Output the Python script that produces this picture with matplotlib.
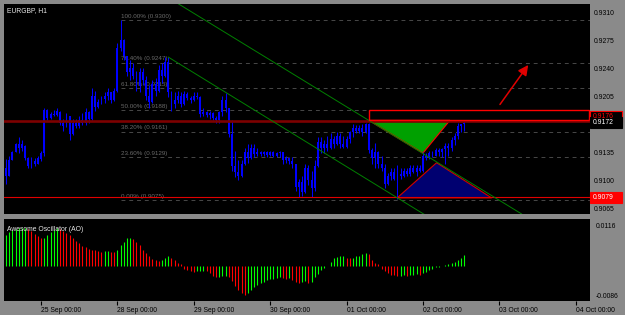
import numpy as np
import matplotlib
matplotlib.use("Agg")
import matplotlib.pyplot as plt
from matplotlib.patches import Polygon, Rectangle

plt.rcParams['font.family'] = ['Liberation Sans', 'DejaVu Sans']

# --- data (EURGBP H1) ---
symbol = "EURGBP, H1"
opens = [0.9115, 0.9106, 0.9125, 0.9135, 0.9145, 0.9140, 0.9143, 0.9128, 0.9118, 0.9124,
         0.9121, 0.9127, 0.9134, 0.9188, 0.9178, 0.9183, 0.9182, 0.9186, 0.9172, 0.9168,
         0.9180, 0.9158, 0.9172, 0.9168, 0.9176, 0.9172, 0.9186, 0.9177, 0.9205, 0.9192,
         0.9198, 0.9202, 0.9205, 0.9210, 0.9200, 0.9212, 0.9265, 0.9275, 0.9255, 0.9235,
         0.9240, 0.9230, 0.9218, 0.9235, 0.9225, 0.9205, 0.9198, 0.9220, 0.9212, 0.9238,
         0.9230, 0.9248, 0.9210, 0.9195, 0.9200, 0.9205, 0.9195, 0.9208, 0.9203, 0.9200,
         0.9206, 0.9204, 0.9183, 0.9186, 0.9182, 0.9184, 0.9178, 0.9176, 0.9185, 0.9200,
         0.9190, 0.9158, 0.9118, 0.9110, 0.9105, 0.9120, 0.9135, 0.9128, 0.9140, 0.9133,
         0.9136, 0.9133, 0.9135, 0.9132, 0.9136, 0.9131, 0.9134, 0.9135, 0.9125, 0.9128,
         0.9124, 0.9120, 0.9092, 0.9098, 0.9085, 0.9115, 0.9100, 0.9090, 0.9118, 0.9148,
         0.9140, 0.9145, 0.9140, 0.9152, 0.9145, 0.9155, 0.9145, 0.9142, 0.9152, 0.9160,
         0.9165, 0.9162, 0.9166, 0.9160, 0.9170, 0.9138, 0.9128, 0.9135, 0.9120, 0.9115,
         0.9095, 0.9105, 0.9110, 0.9102, 0.9108, 0.9105, 0.9112, 0.9108, 0.9115, 0.9110,
         0.9116, 0.9112, 0.9130, 0.9128, 0.9134, 0.9131, 0.9138, 0.9135, 0.9139, 0.9143,
         0.9140, 0.9150, 0.9156, 0.9168, 0.9170]
highs = [0.9127, 0.9131, 0.9137, 0.9147, 0.9154, 0.9150, 0.9144, 0.9129, 0.9129, 0.9128,
         0.9131, 0.9137, 0.9191, 0.9189, 0.9185, 0.9188, 0.9190, 0.9187, 0.9177, 0.9184,
         0.9181, 0.9177, 0.9177, 0.9180, 0.9184, 0.9190, 0.9187, 0.9215, 0.9212, 0.9202,
         0.9206, 0.9210, 0.9215, 0.9210, 0.9215, 0.9272, 0.9300, 0.9277, 0.9256, 0.9250,
         0.9247, 0.9237, 0.9240, 0.9240, 0.9231, 0.9219, 0.9225, 0.9228, 0.9244, 0.9247,
         0.9254, 0.9254, 0.9212, 0.9210, 0.9212, 0.9210, 0.9212, 0.9210, 0.9206, 0.9210,
         0.9210, 0.9205, 0.9190, 0.9187, 0.9187, 0.9185, 0.9181, 0.9187, 0.9206, 0.9209,
         0.9191, 0.9175, 0.9137, 0.9125, 0.9125, 0.9141, 0.9146, 0.9146, 0.9146, 0.9140,
         0.9137, 0.9137, 0.9137, 0.9137, 0.9137, 0.9136, 0.9137, 0.9136, 0.9131, 0.9129,
         0.9129, 0.9121, 0.9102, 0.9106, 0.9121, 0.9119, 0.9112, 0.9125, 0.9154, 0.9154,
         0.9150, 0.9156, 0.9159, 0.9156, 0.9160, 0.9159, 0.9156, 0.9156, 0.9162, 0.9171,
         0.9169, 0.9169, 0.9171, 0.9172, 0.9172, 0.9141, 0.9147, 0.9137, 0.9131, 0.9121,
         0.9109, 0.9116, 0.9116, 0.9119, 0.9115, 0.9116, 0.9116, 0.9119, 0.9119, 0.9119,
         0.9119, 0.9135, 0.9134, 0.9137, 0.9137, 0.9140, 0.9141, 0.9141, 0.9147, 0.9147,
         0.9154, 0.9159, 0.9172, 0.9171, 0.9175]
lows = [0.9096, 0.9106, 0.9125, 0.9135, 0.9134, 0.9137, 0.9125, 0.9115, 0.9116, 0.9118,
        0.9120, 0.9124, 0.9131, 0.9175, 0.9177, 0.9180, 0.9181, 0.9169, 0.9162, 0.9167,
        0.9150, 0.9157, 0.9165, 0.9165, 0.9169, 0.9169, 0.9172, 0.9175, 0.9187, 0.9190,
        0.9195, 0.9197, 0.9200, 0.9197, 0.9199, 0.9210, 0.9262, 0.9250, 0.9231, 0.9225,
        0.9227, 0.9212, 0.9210, 0.9219, 0.9200, 0.9191, 0.9197, 0.9206, 0.9211, 0.9222,
        0.9229, 0.9204, 0.9187, 0.9190, 0.9197, 0.9192, 0.9194, 0.9200, 0.9197, 0.9199,
        0.9202, 0.9179, 0.9180, 0.9179, 0.9177, 0.9175, 0.9172, 0.9172, 0.9181, 0.9185,
        0.9154, 0.9112, 0.9104, 0.9100, 0.9104, 0.9119, 0.9122, 0.9127, 0.9129, 0.9130,
        0.9131, 0.9130, 0.9129, 0.9130, 0.9129, 0.9129, 0.9129, 0.9121, 0.9122, 0.9121,
        0.9116, 0.9087, 0.9079, 0.9081, 0.9084, 0.9094, 0.9079, 0.9087, 0.9117, 0.9134,
        0.9134, 0.9137, 0.9139, 0.9141, 0.9144, 0.9141, 0.9140, 0.9141, 0.9147, 0.9154,
        0.9159, 0.9159, 0.9156, 0.9159, 0.9134, 0.9121, 0.9116, 0.9116, 0.9112, 0.9091,
        0.9094, 0.9100, 0.9100, 0.9077, 0.9102, 0.9104, 0.9106, 0.9106, 0.9109, 0.9106,
        0.9110, 0.9111, 0.9125, 0.9127, 0.9129, 0.9130, 0.9131, 0.9129, 0.9121, 0.9131,
        0.9137, 0.9144, 0.9152, 0.9160, 0.9162]
closes = [0.9105, 0.9125, 0.9135, 0.9145, 0.9140, 0.9145, 0.9128, 0.9118, 0.9125, 0.9120,
          0.9128, 0.9134, 0.9188, 0.9178, 0.9183, 0.9182, 0.9187, 0.9172, 0.9168, 0.9180,
          0.9158, 0.9172, 0.9168, 0.9176, 0.9172, 0.9186, 0.9177, 0.9205, 0.9192, 0.9198,
          0.9202, 0.9205, 0.9210, 0.9200, 0.9212, 0.9265, 0.9275, 0.9255, 0.9235, 0.9240,
          0.9230, 0.9218, 0.9235, 0.9225, 0.9205, 0.9198, 0.9220, 0.9212, 0.9238, 0.9230,
          0.9248, 0.9210, 0.9195, 0.9200, 0.9205, 0.9195, 0.9208, 0.9203, 0.9200, 0.9206,
          0.9204, 0.9183, 0.9186, 0.9182, 0.9184, 0.9178, 0.9176, 0.9185, 0.9200, 0.9190,
          0.9158, 0.9118, 0.9110, 0.9105, 0.9120, 0.9135, 0.9128, 0.9140, 0.9133, 0.9136,
          0.9133, 0.9135, 0.9132, 0.9136, 0.9131, 0.9134, 0.9135, 0.9125, 0.9128, 0.9124,
          0.9120, 0.9092, 0.9098, 0.9085, 0.9115, 0.9100, 0.9090, 0.9118, 0.9148, 0.9140,
          0.9145, 0.9140, 0.9152, 0.9145, 0.9155, 0.9145, 0.9142, 0.9152, 0.9160, 0.9165,
          0.9162, 0.9166, 0.9160, 0.9170, 0.9138, 0.9128, 0.9135, 0.9120, 0.9115, 0.9095,
          0.9105, 0.9110, 0.9102, 0.9108, 0.9105, 0.9112, 0.9108, 0.9115, 0.9110, 0.9116,
          0.9112, 0.9130, 0.9128, 0.9134, 0.9131, 0.9138, 0.9135, 0.9139, 0.9143, 0.9140,
          0.9150, 0.9156, 0.9168, 0.9170, 0.9172]

ao = [0.0076, 0.0083, 0.0088, 0.0091, 0.0093, 0.0094, 0.0095, 0.0092, 0.0087, 0.0079,
      0.0073, 0.0068, 0.0070, 0.0076, 0.0083, 0.0090, 0.0093, 0.0092, 0.0087, 0.0081,
      0.0076, 0.0070, 0.0062, 0.0056, 0.0049, 0.0046, 0.0043, 0.0040, 0.0039, 0.0037,
      0.0035, 0.0036, 0.0037, 0.0035, 0.0034, 0.0040, 0.0052, 0.0060, 0.0068, 0.0070,
      0.0066, 0.0059, 0.0052, 0.0040, 0.0032, 0.0024, 0.0017, 0.0015, 0.0013, 0.0016,
      0.0020, 0.0024, 0.0019, 0.0015, 0.0008, 0.0004, -0.0006, -0.0010, -0.0012, -0.0014,
      -0.0013, -0.0012, -0.0011, -0.0013, -0.0018, -0.0024, -0.0028, -0.0026, -0.0025, -0.0024,
      -0.0028, -0.0036, -0.0048, -0.0058, -0.0066, -0.0070, -0.0066, -0.0058, -0.0052, -0.0046,
      -0.0042, -0.0038, -0.0035, -0.0033, -0.0031, -0.0029, -0.0028, -0.0029, -0.0031, -0.0030,
      -0.0035, -0.0040, -0.0042, -0.0040, -0.0036, -0.0042, -0.0038, -0.0028, -0.0019, -0.0010,
      -0.0004, 0.0001, 0.0011, 0.0019, 0.0022, 0.0024, 0.0025, 0.0021, 0.0019, 0.0021,
      0.0024, 0.0026, 0.0031, 0.0033, 0.0029, 0.0016, 0.0008, 0.0004, -0.0006, -0.0012,
      -0.0017, -0.0021, -0.0022, -0.0025, -0.0024, -0.0022, -0.0024, -0.0022, -0.0021, -0.0020,
      -0.0022, -0.0018, -0.0014, -0.0010, -0.0006, -0.0003, -0.0002, 0.0000, 0.0003, 0.0005,
      0.0008, 0.0011, 0.0015, 0.0019, 0.0028]

fib_start = 36
fib_levels = [0.9300, 0.9247, 0.9215, 0.9188, 0.9161, 0.9129, 0.9075]
fib_labels = ["100.00% (0.9300)", "76.40% (0.9247)", "61.80% (0.9215)", "50.00% (0.9188)",
              "38.20% (0.9161)", "23.60% (0.9129)", "0.00% (0.9075)"]

price_ticks = [0.9310, 0.9275, 0.9240, 0.9205, 0.9135, 0.9100, 0.9065]
time_ticks = [11, 35, 59, 83, 107, 131, 155, 179]
time_labels = ["25 Sep 00:00", "28 Sep 00:00", "29 Sep 00:00", "30 Sep 00:00",
               "01 Oct 00:00", "02 Oct 00:00", "03 Oct 00:00", "04 Oct 00:00"]

resistance = 0.91745
support = 0.9079
last_price = 0.9172
upper_channel = ([54, 162], [0.9321, 0.9058])
lower_channel = ([51, 132], [0.9254, 0.9056])
green_tri = [(114, 0.9175), (139.5, 0.9175), (131, 0.9134)]
blue_tri = [(122.9, 0.9078), (135.3, 0.9122), (152.6, 0.9078)]
zone = (114, 0.9175, 0.9188)
arrow_from = (154.7, 0.9192)
arrow_to = (164.6, 0.9247)

# --- figure layout (MT4 style) ---
W, H = 625, 315
bg = '#8a8a8a'
fig = plt.figure(figsize=(W / 100, H / 100), dpi=100, facecolor=bg)
ax = fig.add_axes([4 / W, (H - 214) / H, 586 / W, 210 / H], facecolor='black')
ax2 = fig.add_axes([4 / W, (H - 301) / H, 586 / W, 82 / H], facecolor='black')

xlim = (-0.63, 183.5)
fs = 4.9

# candles
n = len(closes)
idx = np.arange(n)
o = np.array(opens)
c = np.array(closes)
ax.vlines(idx, lows, highs, color='#0000ff', lw=0.75, zorder=3)
body_lo = np.minimum(o, c)
body_h = np.maximum(np.abs(c - o), 0.00008)
ax.bar(idx, body_h, bottom=body_lo, width=0.6, color='#0000ff', lw=0, zorder=3)

# fibonacci
for lvl, lab in zip(fib_levels, fib_labels):
    ax.plot([fib_start, xlim[1]], [lvl, lvl], color='#484848', lw=0.7, dashes=(4, 4), zorder=2)
    ax.annotate(lab, (fib_start, lvl), xytext=(0.3, 1.0), textcoords='offset points',
                fontsize=4.5, color='#6a6a6a', va='bottom', ha='left', zorder=2)

# horizontal levels
ax.axhline(resistance, color='#7d0000', lw=1.9, zorder=4)
ax.axhline(support, color='#e00000', lw=0.8, zorder=4)

# channel
ax.plot(*upper_channel, color='#008000', lw=0.7, zorder=5)
ax.plot(*lower_channel, color='#008000', lw=0.7, zorder=5)

# triangles
ax.add_patch(Polygon(green_tri, closed=True, fc='#00a000', ec='#ff0000', lw=0.8, zorder=2.5))
ax.add_patch(Polygon(blue_tri, closed=True, fc='#000070', ec='#d00000', lw=0.8, zorder=2.5))

# red zone rectangle
ax.add_patch(Rectangle((zone[0], zone[1]), xlim[1] - zone[0] - 0.25, zone[2] - zone[1],
                       fill=False, ec='#ff0000', lw=1.0, zorder=6))

# arrow
ax.annotate('', xy=arrow_to, xytext=arrow_from,
            arrowprops=dict(arrowstyle='-|>,head_length=0.6,head_width=0.3',
                            color='#e00000', lw=1.1), zorder=7)

ax.set_xlim(*xlim)
ax.set_ylim(0.90579, 0.93204)
ax.set_xticks([])
ax.yaxis.tick_right()
ax.set_yticks(price_ticks)
ax.set_yticklabels([f"{p:.4f}" for p in price_ticks])
ax.tick_params(axis='y', length=0, pad=3, labelsize=fs, labelcolor='black')
for s in ax.spines.values():
    s.set_visible(False)
ax.text(0.005, 0.971, symbol, transform=ax.transAxes, color='#e8e8e8', fontsize=fs,
        va='center', ha='left')

# price labels on the axis
def price_box(price, text, face, edge, color):
    y = ax.transData.transform((0, price))[1]
    fig.add_artist(Rectangle((590 / W, (y - 5.5) / H), 32 / W, 11 / H, transform=fig.transFigure,
                             fc=face, ec=edge, lw=0.8))
    fig.text(593 / W, y / H, text, color=color, fontsize=fs, va='center', ha='left')

price_box(0.91795, "0.9176", 'black', '#ff0000', '#ff0000')
price_box(last_price, f"{last_price:.4f}", 'black', 'black', 'white')
price_box(support, f"{support:.4f}", '#ff0000', '#ff0000', 'white')

# awesome oscillator
cols = ['#00ff00'] + ['#00ff00' if ao[i] > ao[i - 1] else '#ff0000' for i in range(1, len(ao))]
ax2.vlines(np.arange(len(ao)), 0, ao, colors=cols, lw=0.8)
ax2.set_xlim(*xlim)
ax2.set_ylim(-0.0086, 0.0116)
ax2.set_yticks([])
ax2.set_xticks(time_ticks)
ax2.set_xticklabels(time_labels, ha='left')
ax2.tick_params(axis='x', length=3, width=0.8, color='black', pad=1, labelsize=fs,
                labelcolor='black')
for s in ax2.spines.values():
    s.set_visible(False)
ax2.text(0.005, 0.875, "Awesome Oscillator (AO)", transform=ax2.transAxes, color='#e8e8e8',
         fontsize=fs, va='center', ha='left')
ax2.text(1.01, 0.91, "0.0116", transform=ax2.transAxes, fontsize=fs, va='center', ha='left')
ax2.text(1.01, 0.05, "-0.0086", transform=ax2.transAxes, fontsize=fs, va='center', ha='left')

fig.savefig("out.png", dpi=100, facecolor=bg)
